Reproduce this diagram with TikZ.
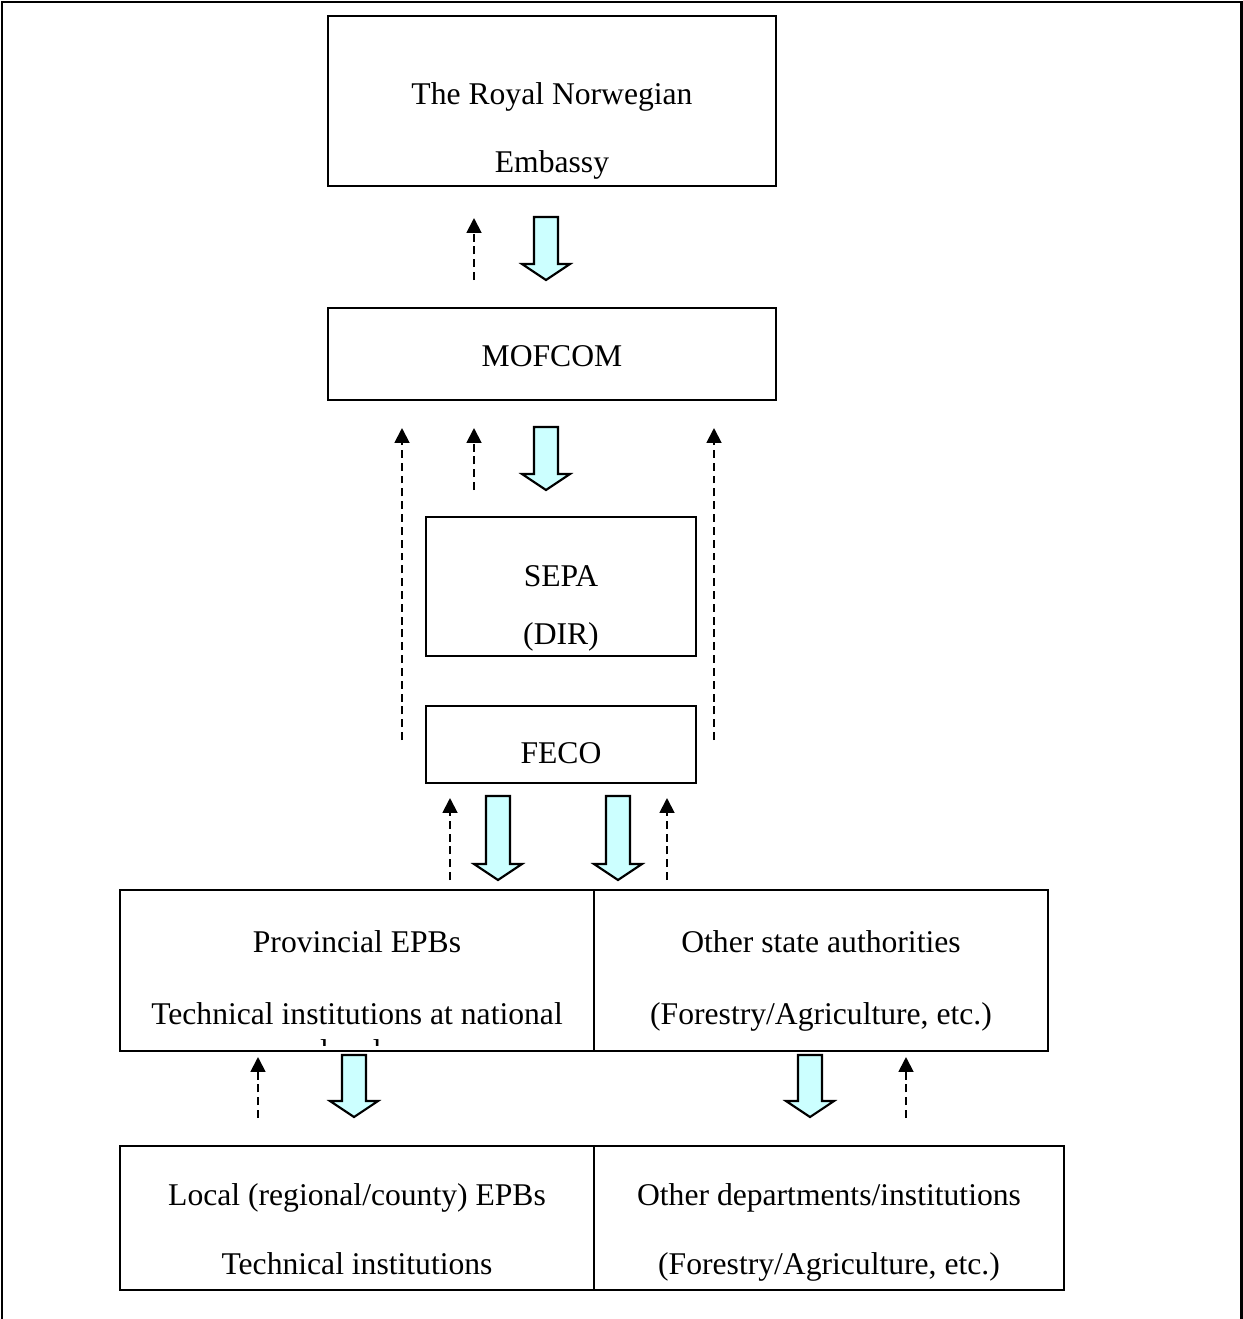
\documentclass[tikz,border=0pt]{standalone}
\usepackage{fontspec}
\setmainfont{Liberation Serif}
\usetikzlibrary{arrows.meta, calc}
\definecolor{arrowcyan}{RGB}{204,255,255}

% hollow down arrow between two named coordinates
\newcommand{\blockarrow}[2]{%
  \draw[blockarr] ($(#1)+(-12,0)$) -- ($(#1)+(12,0)$) -- ($(#2)+(12,-16)$)
    -- ($(#2)+(24,-16)$) -- (#2) -- ($(#2)+(-24,-16)$) -- ($(#2)+(-12,-16)$) -- cycle;}

\begin{document}
\begin{tikzpicture}[x=0.02cm, y=-0.02cm,
    box/.style={draw, line width=1.3pt, inner sep=0pt, outer sep=0pt},
    txt/.style={inner sep=0pt, anchor=base, font=\fontsize{18pt}{22pt}\selectfont},
    blockarr/.style={draw, fill=arrowcyan, line width=1.2pt, line join=miter},
    feedback/.style={line width=1.1pt, dash pattern=on 4.5pt off 2.8pt,
                     -{Triangle[width=8.5pt, length=8.5pt]}}]
    \useasboundingbox (0,0) rectangle (1243,1319);
    \draw[line width=1.7pt] (2,1319) -- (2,2) -- (1241,2) -- (1241,1319);

    % boxes
    \node[box, minimum width=8.96cm, minimum height=3.4cm] (emb) at (552,101) {};
    \node[box, minimum width=8.96cm, minimum height=1.84cm] (mof) at (552,354) {};
    \node[box, minimum width=5.4cm, minimum height=2.78cm] (sepa) at (561,586.5) {};
    \node[box, minimum width=5.4cm, minimum height=1.54cm] (feco) at (561,744.5) {};
    \node[box, minimum width=9.48cm, minimum height=3.22cm] (prov) at (357,970.5) {};
    \node[box, minimum width=9.08cm, minimum height=3.22cm] (state) at (821,970.5) {};
    \node[box, minimum width=9.48cm, minimum height=2.88cm] (local) at (357,1218) {};
    \node[box, minimum width=9.4cm, minimum height=2.88cm] (dept) at (829,1218) {};

    % texts
    \node[txt] (emb1) at (552,104) {The Royal Norwegian};
    \node[txt] (emb2) at (552,172) {Embassy};
    \node[txt] (mof1) at (552,366) {MOFCOM};
    \node[txt] (sepa1) at (561,586) {SEPA};
    \node[txt] (sepa2) at (561,644) {(DIR)};
    \node[txt] (feco1) at (561,763) {FECO};
    \node[txt] (prov1) at (357,952) {Provincial EPBs};
    \node[txt] (prov2) at (357,1024) {Technical institutions at national};
    \begin{scope}
        \clip (121,1000) rectangle (593,1045);
        \node[txt] (prov3) at (357,1061) {levels};
    \end{scope}
    \node[txt] (state1) at (821,952) {Other state authorities};
    \node[txt] (state2) at (821,1024) {(Forestry/Agriculture, etc.)};
    \node[txt] (local1) at (357,1205) {Local (regional/county) EPBs};
    \node[txt] (local2) at (357,1274) {Technical institutions};
    \node[txt] (dept1) at (829,1205) {Other departments/institutions};
    \node[txt] (dept2) at (829,1274) {(Forestry/Agriculture, etc.)};

    % instruction arrows (down)
    \coordinate (b1s) at (546,217);  \coordinate (b1e) at (546,280);
    \coordinate (b2s) at (546,427);  \coordinate (b2e) at (546,490);
    \coordinate (b3s) at (498,796);  \coordinate (b3e) at (498,880);
    \coordinate (b4s) at (618,796);  \coordinate (b4e) at (618,880);
    \coordinate (b5s) at (354,1055); \coordinate (b5e) at (354,1117);
    \coordinate (b6s) at (810,1055); \coordinate (b6e) at (810,1117);
    \blockarrow{b1s}{b1e}
    \blockarrow{b2s}{b2e}
    \blockarrow{b3s}{b3e}
    \blockarrow{b4s}{b4e}
    \blockarrow{b5s}{b5e}
    \blockarrow{b6s}{b6e}

    % reporting arrows (up)
    \coordinate (d1s) at (474,280);  \coordinate (d1e) at (474,218);
    \coordinate (d2s) at (402,740);  \coordinate (d2e) at (402,428);
    \coordinate (d3s) at (474,490);  \coordinate (d3e) at (474,428);
    \coordinate (d4s) at (714,740);  \coordinate (d4e) at (714,428);
    \coordinate (d5s) at (450,880);  \coordinate (d5e) at (450,798);
    \coordinate (d6s) at (667,880);  \coordinate (d6e) at (667,798);
    \coordinate (d7s) at (258,1118); \coordinate (d7e) at (258,1057);
    \coordinate (d8s) at (906,1118); \coordinate (d8e) at (906,1057);
    \foreach \i in {1,...,8}
        \draw[feedback] (d\i s) -- (d\i e);
\end{tikzpicture}
\end{document}
